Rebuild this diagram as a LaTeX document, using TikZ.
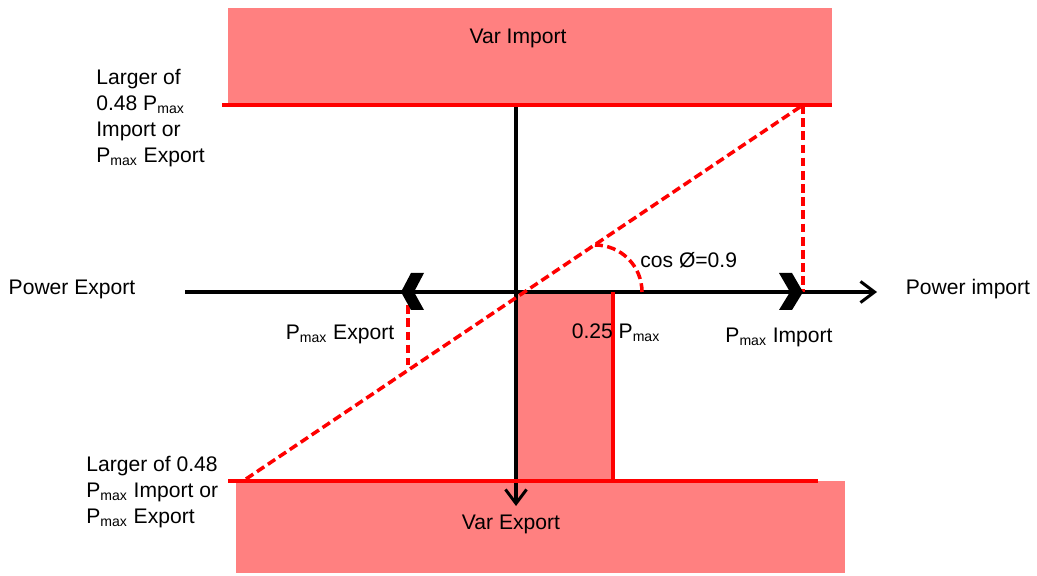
\documentclass[tikz,border=0pt]{standalone}
\usepackage{fontspec}
\setmainfont{Liberation Sans}
\usepackage{tikz}
\usetikzlibrary{arrows.meta,positioning,calc}
\definecolor{zonepink}{RGB}{255,128,128}
\definecolor{limitred}{RGB}{255,0,0}

\begin{document}
\begin{tikzpicture}[
    x=0.02cm, y=0.02cm,
    lbl/.style={inner sep=0pt, font=\fontsize{12}{14.9}\selectfont, align=left},
    zone/.style={fill=zonepink, draw=none},
    limit/.style={draw=limitred, line width=2.3pt},
    guide/.style={draw=limitred, line width=2pt, dash pattern=on 5pt off 2.5pt},
    axis/.style={draw=black, line width=1.9pt, -{Straight Barb[length=8pt,width=12pt,line width=1.7pt]}},
    chevron/.style={fill=black, draw=none}
]
    \useasboundingbox (0,0) rectangle (1037,575);

    % var bands
    \fill[zone] (228,567) rectangle (832,470);
    \fill[zone] (236,94) rectangle (845,2);
    \fill[zone] (516,283) rectangle (613,94);

    \coordinate (O) at (516,283);
    \coordinate (xl) at (185,283);
    \coordinate (xr) at (877,283);
    \coordinate (yt) at (516,470);
    \coordinate (yb) at (516,69);
    \coordinate (toplimL) at (222,470);
    \coordinate (toplimR) at (832,470);
    \coordinate (botlimL) at (228,94);
    \coordinate (botlimR) at (818,94);
    \coordinate (qtr) at (613,283);
    \coordinate (qtrB) at (613,94);
    \coordinate (diagL) at (246,96);
    \coordinate (diagR) at (803,470);
    \coordinate (impX) at (803,283);
    \coordinate (expX) at (408,283);
    \coordinate (expD) at (408,210);

    % axes
    \draw[axis] (xl) -- (xr);
    \draw[axis] (yt) -- (yb);

    % limits
    \draw[limit] (toplimL) -- (toplimR);
    \draw[limit] (botlimL) -- (botlimR);
    \draw[limitred, line width=1.9pt] (qtr) -- (qtrB);

    % power factor line
    \draw[guide] (diagL) -- (diagR);
    \draw[guide] (diagR) -- (impX);
    \draw[guide] (expX) -- (expD);
    \draw[guide] (642,283) arc[start angle=0, end angle=90, radius=47];

    % Pmax markers
    \fill[chevron] (424,302) -- (411,302) -- (401,283) -- (411,265) -- (424,265) -- (414,283) -- cycle;
    \fill[chevron] (779,302) -- (792,302) -- (803,283) -- (792,265) -- (779,265) -- (790,283) -- cycle;

    % labels
    \node[lbl] (varimp) at (518,537) {Var Import};
    \node[lbl] (varexp) at (511,51) {Var Export};
    \node[lbl] (pwrexp) at (72,286) {Power Export};
    \node[lbl] (pwrimp) at (968,286) {Power import};
    \node[lbl] (pmaxexp) at (340,241) {P\textsubscript{max} Export};
    \node[lbl] (quarter) at (616,242) {0.25 P\textsubscript{max}};
    \node[lbl] (pmaximp) at (779,238) {P\textsubscript{max} Import};
    \node[lbl, anchor=west] (cosphi) at (640,315) {cos Ø=0.9};
    \node[lbl, anchor=west] (toplbl) at (96,457) {Larger of\\0.48 P\textsubscript{max}\\Import or\\P\textsubscript{max} Export};
    \node[lbl, anchor=west] (botlbl) at (86,83) {Larger of 0.48\\P\textsubscript{max} Import or\\P\textsubscript{max} Export};
\end{tikzpicture}
\end{document}
